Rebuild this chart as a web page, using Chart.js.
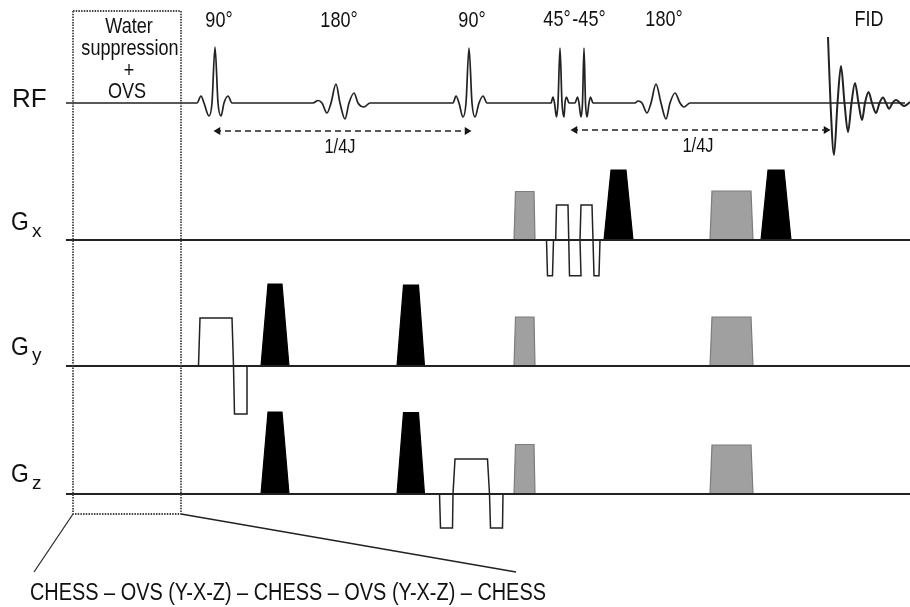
<!DOCTYPE html>
<html>
<head>
<meta charset="utf-8">
<style>
  html, body { margin: 0; padding: 0; background: #fff; }
  #chart { display: block; }
</style>
<script src="https://cdn.jsdelivr.net/npm/chart.js@4"></script>
</head>
<body>
<canvas id="chart" width="910" height="607"></canvas>
<script>
// channel baselines
const rfBase = 103, gxBase = 240, gyBase = 366, gzBase = 494;

// RF waveform (time, amplitude above baseline)
const rfTime = [66, 197, 201, 204, 209, 212, 215, 218, 221, 224, 228, 232,
  313, 318, 322, 327, 331, 336, 340, 345, 349, 354, 358, 364, 370,
  453, 456, 459, 463, 466, 469, 472, 475, 479, 483, 487,
  551, 553, 554.5, 556.5, 558, 560, 562, 564, 565, 566.5, 569,
  575, 577.5, 579, 581, 582.5, 584, 585.5, 587, 589, 590.5, 593,
  635, 638, 642, 647, 651, 656, 661, 666, 670, 675, 680, 684, 690, 905];
const rfAmp = [0, 0, 7, 0, -13, 0, 56, 0, -13, 0, 7, 0,
  0, 2.5, 0, -10, 0, 19, 0, -16, 0, 10, 0, -4, 0,
  0, 7, 0, -14, 0, 55, 0, -14, 0, 7, 0,
  0, 6, 0, -14, 0, 55, 0, -14, 0, 6, 0,
  0, 6, 0, -14, 0, 55, 0, -14, 0, 6, 0,
  0, 2, 0, -10, 0, 19, 0, -16, 0, 10, 0, -4, 0, 0];

const fidTime = [828, 830.5, 834, 837.5, 841, 844.5, 848, 851.5, 855, 858.5, 862, 865, 868.5, 872, 876, 879.5, 883, 886, 889, 892.5, 896, 900, 904, 910];
const fidAmp = [66, 0, -52, 0, 37, 0, -29, 0, 20, 0, -17, 0, 11, 0, -10, 0, 5.5, 0, -5.7, 0, 3, 0, -3, 1];

// delay arrows
const delayFrom = [215, 572];
const delayTo = [470, 829];
const delayAmp = [-28, -27];

// black crusher gradients: four corner times, height
const gxBlackT = [[604, 611, 626, 633], [761, 768, 784, 791]];
const gxBlackH = [70, 70];
const gyBlackT = [[261, 268, 282, 289], [397, 403.5, 418.5, 424.5]];
const gyBlackH = [82, 81];
const gzBlackT = [[261, 268, 282, 289], [397, 403.5, 418.5, 424.5]];
const gzBlackH = [82, 81.5];

// gray slice select gradients
const grayT = [[514, 515.5, 534, 535], [710, 712, 751, 753]];
const gxGrayH = [48.5, 49];
const gyGrayH = [49, 49];
const gzGrayH = [49.5, 49];

// white encoding gradients
const gxWhiteT = [546.5, 547.5, 552.5, 553.5, 555.7, 556.5, 568, 569.5, 581, 580, 581, 592, 593, 594, 599, 600];
const gxWhiteA = [0, -35.7, -35.7, 0, 0, 35, 35, -35.7, -35.7, 0, 35, 35, 0, -35.7, -35.7, 0];
const gyWhiteT = [198.5, 200, 232, 233.5, 198.5, 233.5, 234.5, 246.5, 247, 234];
const gyWhiteA = [0, 48, 48, 0, 0, 0, -48, -48, 0, 0];
const gzWhiteT = [439.5, 440.5, 452.5, 453, 455, 487.5, 489.5, 490.5, 502.5, 503];
const gzWhiteA = [0, -34, -34, 0, 35, 35, 0, -34, -34, 0];

// water suppression box and its zoom lines
const boxX = [73, 181, 181, 73, 73];
const boxY = [11, 11, 514, 514, 11];
const zoomLeftX = [73, 34], zoomLeftY = [514, 572];
const zoomRightX = [181, 516], zoomRightY = [514, 572];

// channel lines
const lineStart = [66, 66, 66];
const lineBases = [gxBase, gyBase, gzBase];

// text
const narrowTexts = ["Water", "suppression", "+", "OVS", "90°", "180°", "90°", "45°", "-45°", "180°", "FID"];
const narrowX = [129, 130, 129, 127, 219, 339, 472, 557, 589, 664, 869];
const narrowY = [33, 55, 77, 98, 27, 27, 27, 26, 26, 26, 26];
const delayLabels = ["1/4J", "1/4J"];
const delayLabelX = [340, 698];
const delayLabelY = [153, 152];
const gradLabels = ["G", "G", "G"];
const gradSubs = ["x", "y", "z"];
const gradY = [230, 355, 482];
const gradSubY = [237, 361, 489];
const chessText = "CHESS – OVS (Y-X-Z) – CHESS – OVS (Y-X-Z) – CHESS";

const ink = "#222";

function pts(xs, ys) {
  return xs.map((x, i) => ({ x: x, y: ys[i] }));
}
function above(base, xs, amps) {
  return xs.map((x, i) => ({ x: x, y: base - amps[i] }));
}
function trapezoid(base, t, h) {
  return above(base, t, [0, h, h, 0]);
}
function lineSet(data, extra) {
  return Object.assign({ data: data, showLine: true, pointRadius: 0, borderColor: ink, borderWidth: 1.7, tension: 0 }, extra || {});
}

const datasets = [];

// box goes first so the traces sit over it
datasets.push(lineSet(pts(boxX, boxY), { borderColor: "#444", borderWidth: 1.8, borderDash: [1.5, 1.2] }));
datasets.push(lineSet(pts(zoomLeftX, zoomLeftY), { borderWidth: 1.2 }));
datasets.push(lineSet(pts(zoomRightX, zoomRightY), { borderWidth: 1.4 }));

lineBases.forEach((b, i) => {
  datasets.push(lineSet(pts([lineStart[i], 910], [b, b]), { borderWidth: 1.8 }));
});

datasets.push(lineSet(above(rfBase, rfTime, rfAmp), { cubicInterpolationMode: "monotone", borderWidth: 1.7 }));
datasets.push(lineSet(above(rfBase, fidTime, fidAmp), { cubicInterpolationMode: "monotone", borderWidth: 2 }));

delayFrom.forEach((from, i) => {
  const y = rfBase - delayAmp[i];
  datasets.push(lineSet(pts([from, delayTo[i]], [y, y]), { borderDash: [6, 4], borderColor: "#222", borderWidth: 1.6 }));
  datasets.push({
    data: pts([from + 3, delayTo[i] - 3], [y, y]),
    showLine: false,
    pointStyle: "triangle",
    pointRadius: 4.5,
    pointRotation: [-90, 90],
    pointBackgroundColor: "#111",
    pointBorderWidth: 0,
  });
});

function addTraps(base, times, heights, fillColor, edge) {
  times.forEach((t, i) => {
    datasets.push(lineSet(trapezoid(base, t, heights[i]), {
      fill: { value: base },
      backgroundColor: fillColor,
      borderColor: edge,
      borderWidth: 1.2,
    }));
  });
}
addTraps(gxBase, gxBlackT, gxBlackH, "#000", "#000");
addTraps(gyBase, gyBlackT, gyBlackH, "#000", "#000");
addTraps(gzBase, gzBlackT, gzBlackH, "#000", "#000");
addTraps(gxBase, grayT, gxGrayH, "#a0a0a0", "#7c7c7c");
addTraps(gyBase, grayT, gyGrayH, "#a0a0a0", "#7c7c7c");
addTraps(gzBase, grayT, gzGrayH, "#a0a0a0", "#7c7c7c");

datasets.push(lineSet(above(gxBase, gxWhiteT, gxWhiteA), { borderWidth: 1.5 }));
datasets.push(lineSet(above(gyBase, gyWhiteT, gyWhiteA), { borderWidth: 1.5 }));
datasets.push(lineSet(above(gzBase, gzWhiteT, gzWhiteA), { borderWidth: 1.5 }));

// the reference text is a condensed face, Liberation Sans squeezed sideways comes close
function squeezed(c, text, px, py, size, squeeze, align) {
  c.save();
  c.translate(px, py);
  c.scale(squeeze, 1);
  c.font = size + 'px "Liberation Sans"';
  c.textAlign = align;
  c.fillText(text, 0, 0);
  c.restore();
}

const textPlugin = {
  id: "seqText",
  afterDatasetsDraw(chart) {
    const c = chart.ctx, sx = chart.scales.x, sy = chart.scales.y;
    c.save();
    c.fillStyle = "#111";
    c.textBaseline = "alphabetic";

    narrowTexts.forEach((t, i) => squeezed(c, t, sx.getPixelForValue(narrowX[i]), sy.getPixelForValue(narrowY[i]), 22, 0.82, "center"));
    delayLabels.forEach((t, i) => squeezed(c, t, sx.getPixelForValue(delayLabelX[i]), sy.getPixelForValue(delayLabelY[i]), 20, 0.82, "center"));

    squeezed(c, "RF", sx.getPixelForValue(12), sy.getPixelForValue(107), 26, 1, "left");
    gradLabels.forEach((t, i) => {
      squeezed(c, t, sx.getPixelForValue(11), sy.getPixelForValue(gradY[i]), 26, 0.88, "left");
      squeezed(c, gradSubs[i], sx.getPixelForValue(32), sy.getPixelForValue(gradSubY[i]), 19, 1, "left");
    });

    squeezed(c, chessText, sx.getPixelForValue(30), sy.getPixelForValue(600), 23, 0.865, "left");
    c.restore();
  },
};

new Chart(document.getElementById("chart"), {
  type: "scatter",
  data: { datasets: datasets },
  plugins: [textPlugin],
  options: {
    responsive: false,
    animation: false,
    layout: { padding: 0, autoPadding: false },
    plugins: { legend: { display: false }, tooltip: { enabled: false }, title: { display: false } },
    elements: { line: { borderCapStyle: "butt", borderJoinStyle: "miter" } },
    scales: {
      x: { type: "linear", min: 0, max: 910, display: false },
      y: { type: "linear", min: 0, max: 607, reverse: true, display: false },
    },
  },
});
</script>
</body>
</html>
